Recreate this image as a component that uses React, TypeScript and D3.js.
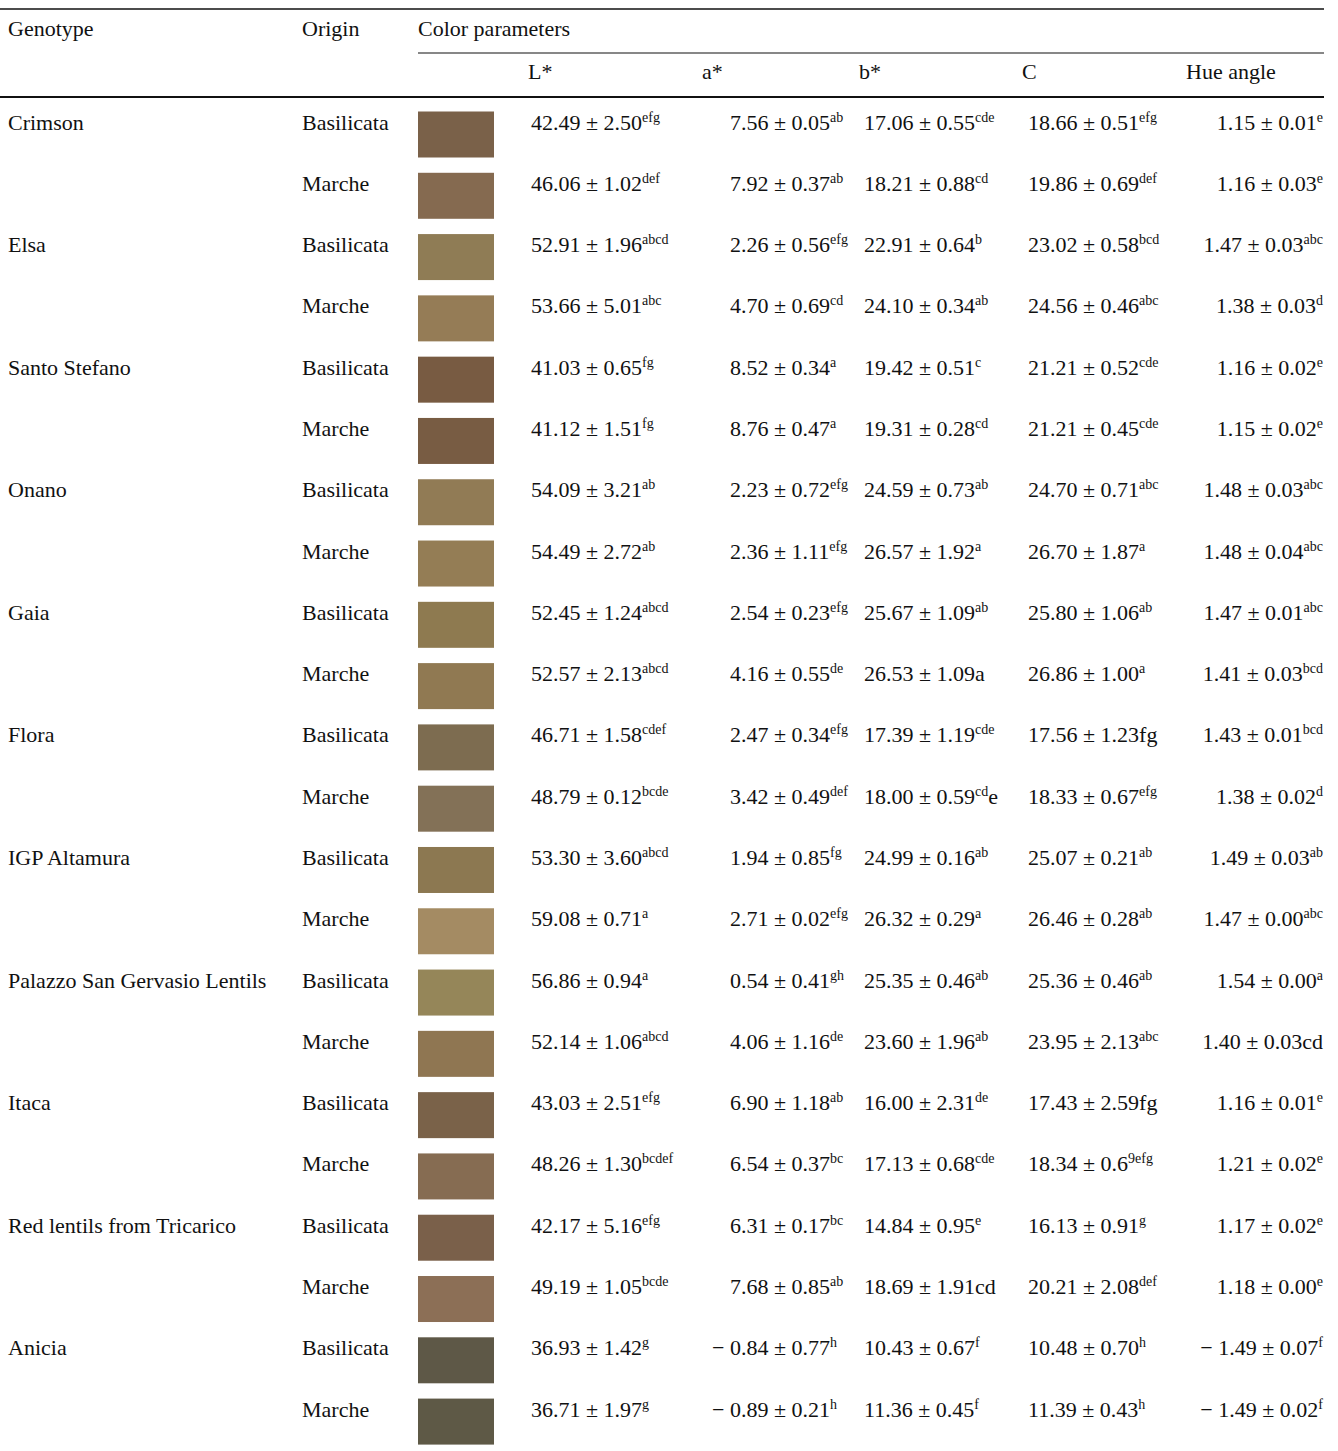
import React from "react";
import * as d3 from "d3";

const genotypes = [
  "Crimson", "", "Elsa", "", "Santo Stefano", "", "Onano", "", "Gaia", "", "Flora", "",
  "IGP Altamura", "", "Palazzo San Gervasio Lentils", "", "Itaca", "",
  "Red lentils from Tricarico", "", "Anicia", "",
];
const origins = Array.from({ length: 11 }).flatMap(() => ["Basilicata", "Marche"]);
const swatchColors = [
  "#7a6149", "#856a50", "#8f7c55", "#957c56", "#785b42", "#785c43",
  "#917b55", "#947d55", "#8e7a50", "#907952", "#7d6c50", "#837157",
  "#8c7851", "#a48b63", "#958659", "#8f7652", "#7a6249", "#866c52",
  "#7a604a", "#8c6f56", "#5e5847", "#5e5946",
];
const lValues = [
  "42.49 ± 2.50^efg", "46.06 ± 1.02^def", "52.91 ± 1.96^abcd", "53.66 ± 5.01^abc",
  "41.03 ± 0.65^fg", "41.12 ± 1.51^fg", "54.09 ± 3.21^ab", "54.49 ± 2.72^ab",
  "52.45 ± 1.24^abcd", "52.57 ± 2.13^abcd", "46.71 ± 1.58^cdef", "48.79 ± 0.12^bcde",
  "53.30 ± 3.60^abcd", "59.08 ± 0.71^a", "56.86 ± 0.94^a", "52.14 ± 1.06^abcd",
  "43.03 ± 2.51^efg", "48.26 ± 1.30^bcdef", "42.17 ± 5.16^efg", "49.19 ± 1.05^bcde",
  "36.93 ± 1.42^g", "36.71 ± 1.97^g",
];
const aValues = [
  "7.56 ± 0.05^ab", "7.92 ± 0.37^ab", "2.26 ± 0.56^efg", "4.70 ± 0.69^cd",
  "8.52 ± 0.34^a", "8.76 ± 0.47^a", "2.23 ± 0.72^efg", "2.36 ± 1.11^efg",
  "2.54 ± 0.23^efg", "4.16 ± 0.55^de", "2.47 ± 0.34^efg", "3.42 ± 0.49^def",
  "1.94 ± 0.85^fg", "2.71 ± 0.02^efg", "0.54 ± 0.41^gh", "4.06 ± 1.16^de",
  "6.90 ± 1.18^ab", "6.54 ± 0.37^bc", "6.31 ± 0.17^bc", "7.68 ± 0.85^ab",
  "− 0.84 ± 0.77^h", "− 0.89 ± 0.21^h",
];
const bValues = [
  "17.06 ± 0.55^cde", "18.21 ± 0.88^cd", "22.91 ± 0.64^b", "24.10 ± 0.34^ab",
  "19.42 ± 0.51^c", "19.31 ± 0.28^cd", "24.59 ± 0.73^ab", "26.57 ± 1.92^a",
  "25.67 ± 1.09^ab", "26.53 ± 1.09a", "17.39 ± 1.19^cde", "18.00 ± 0.59^cd_e",
  "24.99 ± 0.16^ab", "26.32 ± 0.29^a", "25.35 ± 0.46^ab", "23.60 ± 1.96^ab",
  "16.00 ± 2.31^de", "17.13 ± 0.68^cde", "14.84 ± 0.95^e", "18.69 ± 1.91cd",
  "10.43 ± 0.67^f", "11.36 ± 0.45^f",
];
const cValues = [
  "18.66 ± 0.51^efg", "19.86 ± 0.69^def", "23.02 ± 0.58^bcd", "24.56 ± 0.46^abc",
  "21.21 ± 0.52^cde", "21.21 ± 0.45^cde", "24.70 ± 0.71^abc", "26.70 ± 1.87^a",
  "25.80 ± 1.06^ab", "26.86 ± 1.00^a", "17.56 ± 1.23fg", "18.33 ± 0.67^efg",
  "25.07 ± 0.21^ab", "26.46 ± 0.28^ab", "25.36 ± 0.46^ab", "23.95 ± 2.13^abc",
  "17.43 ± 2.59fg", "18.34 ± 0.6^9efg", "16.13 ± 0.91^g", "20.21 ± 2.08^def",
  "10.48 ± 0.70^h", "11.39 ± 0.43^h",
];
const hueValues = [
  "1.15 ± 0.01^e", "1.16 ± 0.03^e", "1.47 ± 0.03^abc", "1.38 ± 0.03^d",
  "1.16 ± 0.02^e", "1.15 ± 0.02^e", "1.48 ± 0.03^abc", "1.48 ± 0.04^abc",
  "1.47 ± 0.01^abc", "1.41 ± 0.03^bcd", "1.43 ± 0.01^bcd", "1.38 ± 0.02^d",
  "1.49 ± 0.03^ab", "1.47 ± 0.00^abc", "1.54 ± 0.00^a", "1.40 ± 0.03cd",
  "1.16 ± 0.01^e", "1.21 ± 0.02^e", "1.17 ± 0.02^e", "1.18 ± 0.00^e",
  "− 1.49 ± 0.07^f", "− 1.49 ± 0.02^f",
];
const headers = ["Genotype", "Origin", "Color parameters"];
const subHeaders = ["L*", "a*", "b*", "C", "Hue angle"];

const W = 1338;
const H = 1451;
const FONT = "'Liberation Serif', 'Times New Roman', serif";
const FS = 22;
const SUP = 14;
const INK = "#111";

function parseCell(s: string) {
  const [main, rest = ""] = s.split("^");
  const [sup, tail = ""] = rest.split("_");
  return { main, sup, tail };
}

function Cell({ s, x, y, anchor }: { s: string; x: number; y: number; anchor: "start" | "end" }) {
  const { main, sup, tail } = parseCell(s);
  let prefix = "";
  let body = main;
  if (anchor === "start" && main.startsWith("− ")) {
    prefix = "− ";
    body = main.slice(2);
  }
  return (
    <g>
      {prefix && (
        <text x={x} y={y} textAnchor="end" fontFamily={FONT} fontSize={FS} fill={INK} style={{ whiteSpace: "pre" }}>
          {prefix}
        </text>
      )}
      <text x={x} y={y} textAnchor={anchor} fontFamily={FONT} fontSize={FS} fill={INK} style={{ whiteSpace: "pre" }}>
        <tspan>{body}</tspan>
        {sup && (
          <tspan fontSize={SUP} dy={-8}>
            {sup}
          </tspan>
        )}
        {tail && <tspan dy={sup ? 8 : 0}>{tail}</tspan>}
      </text>
    </g>
  );
}

export default function App() {
  const n = genotypes.length;
  const y = d3.scaleLinear().domain([0, n - 1]).range([129.5, 129.5 + (n - 1) * 61.29]);
  const colX = { geno: 8, origin: 302, swatch: 418, L: 531, a: 730, b: 864, C: 1028, hueEnd: 1323 };
  const subX = [528, 702, 859, 1022, 1186];
  const right = 1324;

  return (
    <svg width={W} height={H} style={{ position: "absolute", left: 0, top: 0, background: "#fff" }}>
      <rect x={0} y={0} width={W} height={H} fill="#fff" />
      <line x1={0} x2={right} y1={9} y2={9} stroke={INK} strokeWidth={1.5} />
      <line x1={colX.swatch} x2={right} y1={53} y2={53} stroke={INK} strokeWidth={1.2} />
      <line x1={0} x2={right} y1={97} y2={97} stroke={INK} strokeWidth={2.2} />
      <text x={colX.geno} y={36} fontFamily={FONT} fontSize={FS} fill={INK}>{headers[0]}</text>
      <text x={colX.origin} y={36} fontFamily={FONT} fontSize={FS} fill={INK}>{headers[1]}</text>
      <text x={colX.swatch} y={36} fontFamily={FONT} fontSize={FS} fill={INK}>{headers[2]}</text>
      {subHeaders.map((h, i) => (
        <text key={h} x={subX[i]} y={79} fontFamily={FONT} fontSize={FS} fill={INK}>{h}</text>
      ))}
      {genotypes.map((g, i) => {
        const by = y(i);
        return (
          <g key={i}>
            {g && (
              <text x={colX.geno} y={by} fontFamily={FONT} fontSize={FS} fill={INK}>{g}</text>
            )}
            <text x={colX.origin} y={by} fontFamily={FONT} fontSize={FS} fill={INK}>{origins[i]}</text>
            <rect x={colX.swatch} y={by - 18} width={76} height={46} fill={swatchColors[i]} />
            <Cell s={lValues[i]} x={colX.L} y={by} anchor="start" />
            <Cell s={aValues[i]} x={colX.a} y={by} anchor="start" />
            <Cell s={bValues[i]} x={colX.b} y={by} anchor="start" />
            <Cell s={cValues[i]} x={colX.C} y={by} anchor="start" />
            <Cell s={hueValues[i]} x={colX.hueEnd} y={by} anchor="end" />
          </g>
        );
      })}
    </svg>
  );
}
